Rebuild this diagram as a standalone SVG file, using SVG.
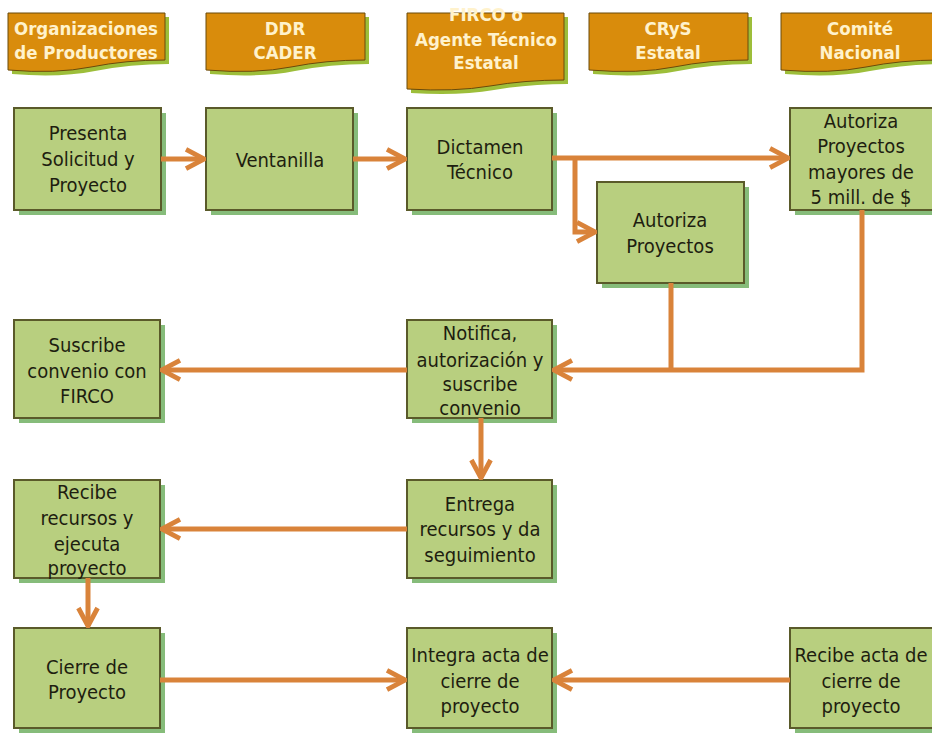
<svg xmlns="http://www.w3.org/2000/svg" width="932" height="733" viewBox="0 0 932 733">
<style>
.hdr{fill:#D98C0C;stroke:#6B4A0A;stroke-width:1}
.hsh{fill:#9DBE3A}
.box{fill:#B8CF7F;stroke:#5A5A2A;stroke-width:2}
.bsh{fill:#86BC7A}
.ht{font-family:"DejaVu Sans Condensed","DejaVu Sans",sans-serif;font-size:18.5px;font-weight:bold;fill:#FFF2CC;text-anchor:middle}
.bt{font-family:"DejaVu Sans Condensed","DejaVu Sans",sans-serif;font-size:20px;fill:#1E1E10;text-anchor:middle}
.c{fill:none;stroke:#D9833A;stroke-width:5}
</style>
<defs>
<marker id="ah" viewBox="0 0 10 10" refX="9" refY="5" markerWidth="4.8" markerHeight="4.8" orient="auto" markerUnits="strokeWidth">
<path d="M1.5,1 L9,5 L1.5,9" fill="none" stroke="#D9833A" stroke-width="2"/>
</marker>
</defs>
<rect width="932" height="733" fill="#ffffff"/>

<g id="h1">
<path class="hsh" d="M12,17 H169 V64 Q130,64 95,71 T12,74 Z"/>
<path class="hdr" d="M8,13 H165 V60 Q126,60 91,67 T8,70 Z"/>
<text class="ht" x="86" y="35">Organizaciones</text>
<text class="ht" x="86" y="59">de Productores</text>
</g>
<g id="h2">
<path class="hsh" d="M210,17 H369 V64 Q330,64 295,71 T210,74 Z"/>
<path class="hdr" d="M206,13 H365 V60 Q326,60 291,67 T206,70 Z"/>
<text class="ht" x="285" y="35">DDR</text>
<text class="ht" x="285" y="59">CADER</text>
</g>
<g id="h3">
<path class="hsh" d="M411,17 H568 V84 Q529,84 494,90 T411,93 Z"/>
<path class="hdr" d="M407,13 H564 V80 Q525,80 490,86 T407,89 Z"/>
<text class="ht" x="486" y="21">FIRCO o</text>
<text class="ht" x="486" y="46">Agente Técnico</text>
<text class="ht" x="486" y="69">Estatal</text>
</g>
<g id="h4">
<path class="hsh" d="M593,17 H752 V64 Q713,64 678,71 T593,74 Z"/>
<path class="hdr" d="M589,13 H748 V60 Q709,60 674,67 T589,70 Z"/>
<text class="ht" x="668" y="35">CRyS</text>
<text class="ht" x="668" y="59">Estatal</text>
</g>
<g id="h5">
<path class="hsh" d="M785,17 H944 V64 Q905,64 870,71 T785,74 Z"/>
<path class="hdr" d="M781,13 H940 V60 Q901,60 866,67 T781,70 Z"/>
<text class="ht" x="860" y="35">Comité</text>
<text class="ht" x="860" y="59">Nacional</text>
</g>

<g id="n1">
<rect class="bsh" x="19" y="113" width="147" height="102"/>
<rect class="box" x="14" y="108" width="147" height="102"/>
<text class="bt" x="88" y="140">Presenta</text>
<text class="bt" x="88" y="166">Solicitud y</text>
<text class="bt" x="88" y="192">Proyecto</text>
</g>
<g id="n2">
<rect class="bsh" x="211" y="113" width="147" height="102"/>
<rect class="box" x="206" y="108" width="147" height="102"/>
<text class="bt" x="280" y="167">Ventanilla</text>
</g>
<g id="n3">
<rect class="bsh" x="412" y="113" width="145" height="102"/>
<rect class="box" x="407" y="108" width="145" height="102"/>
<text class="bt" x="480" y="154">Dictamen</text>
<text class="bt" x="480" y="179">Técnico</text>
</g>
<g id="n4">
<rect class="bsh" x="602" y="187" width="147" height="101"/>
<rect class="box" x="597" y="182" width="147" height="101"/>
<text class="bt" x="670" y="227">Autoriza</text>
<text class="bt" x="670" y="253">Proyectos</text>
</g>
<g id="n5">
<rect class="bsh" x="795" y="113" width="147" height="102"/>
<rect class="box" x="790" y="108" width="147" height="102"/>
<text class="bt" x="861" y="128">Autoriza</text>
<text class="bt" x="861" y="153">Proyectos</text>
<text class="bt" x="861" y="179">mayores de</text>
<text class="bt" x="861" y="204">5 mill. de $</text>
</g>
<g id="n6">
<rect class="bsh" x="19" y="325" width="146" height="98"/>
<rect class="box" x="14" y="320" width="146" height="98"/>
<text class="bt" x="87" y="352">Suscribe</text>
<text class="bt" x="87" y="378">convenio con</text>
<text class="bt" x="87" y="403">FIRCO</text>
</g>
<g id="n7">
<rect class="bsh" x="412" y="325" width="145" height="98"/>
<rect class="box" x="407" y="320" width="145" height="98"/>
<text class="bt" x="480" y="340">Notifica,</text>
<text class="bt" x="480" y="367">autorización y</text>
<text class="bt" x="480" y="391">suscribe</text>
<text class="bt" x="480" y="415">convenio</text>
</g>
<g id="n8">
<rect class="bsh" x="412" y="485" width="145" height="98"/>
<rect class="box" x="407" y="480" width="145" height="98"/>
<text class="bt" x="480" y="511">Entrega</text>
<text class="bt" x="480" y="536">recursos y da</text>
<text class="bt" x="480" y="562">seguimiento</text>
</g>
<g id="n9">
<rect class="bsh" x="19" y="485" width="146" height="98"/>
<rect class="box" x="14" y="480" width="146" height="98"/>
<text class="bt" x="87" y="499">Recibe</text>
<text class="bt" x="87" y="525">recursos y</text>
<text class="bt" x="87" y="551">ejecuta</text>
<text class="bt" x="87" y="575">proyecto</text>
</g>
<g id="n10">
<rect class="bsh" x="19" y="633" width="146" height="100"/>
<rect class="box" x="14" y="628" width="146" height="100"/>
<text class="bt" x="87" y="674">Cierre de</text>
<text class="bt" x="87" y="699">Proyecto</text>
</g>
<g id="n11">
<rect class="bsh" x="412" y="633" width="145" height="100"/>
<rect class="box" x="407" y="628" width="145" height="100"/>
<text class="bt" x="480" y="662">Integra acta de</text>
<text class="bt" x="480" y="688">cierre de</text>
<text class="bt" x="480" y="713">proyecto</text>
</g>
<g id="n12">
<rect class="bsh" x="795" y="633" width="147" height="100"/>
<rect class="box" x="790" y="628" width="147" height="100"/>
<text class="bt" x="861" y="662">Recibe acta de</text>
<text class="bt" x="861" y="688">cierre de</text>
<text class="bt" x="861" y="713">proyecto</text>
</g>

<g id="connectors">
<path class="c" d="M161,159 H204" marker-end="url(#ah)"/>
<path class="c" d="M353,159 H405" marker-end="url(#ah)"/>
<path class="c" d="M552,158 H788" marker-end="url(#ah)"/>
<path class="c" d="M575,158 V232 H595" marker-end="url(#ah)"/>
<path class="c" d="M671,283 V370"/>
<path class="c" d="M862,210 V370 H554" marker-end="url(#ah)"/>
<path class="c" d="M407,370 H162" marker-end="url(#ah)"/>
<path class="c" d="M481,418 V478" marker-end="url(#ah)"/>
<path class="c" d="M407,529 H162" marker-end="url(#ah)"/>
<path class="c" d="M88,578 V626" marker-end="url(#ah)"/>
<path class="c" d="M160,680 H405" marker-end="url(#ah)"/>
<path class="c" d="M790,680 H554" marker-end="url(#ah)"/>
</g>
</svg>
